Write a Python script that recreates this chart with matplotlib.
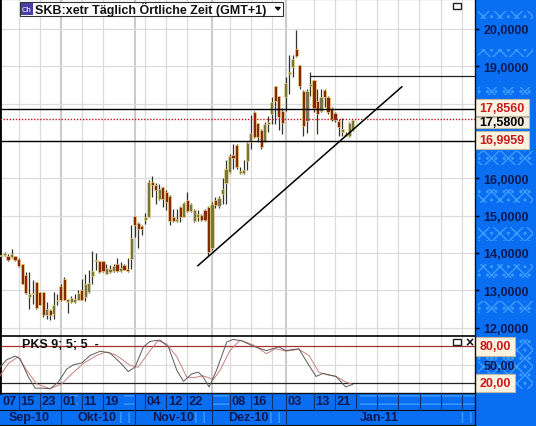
import matplotlib
matplotlib.use('Agg')
import matplotlib.pyplot as plt
from matplotlib.patches import Rectangle

plt.rcParams['font.family'] = ['Liberation Sans', 'DejaVu Sans']
plt.rcParams['hatch.linewidth'] = 1.0

# daily candles
opens = [13.91, 13.94, 13.92, 13.89, 13.91, 13.84, 13.71, 13.42, 12.82, 12.89, 13.21, 12.96, 12.96, 12.33, 12.48, 12.37, 12.71,
         13.11, 13.31, 12.68, 12.68, 12.69, 12.75, 13.00, 12.82, 12.96, 13.39, 13.78, 13.78, 13.78, 13.45, 13.49, 13.51, 13.71,
         13.52, 13.68, 13.58, 13.85, 14.98, 14.80, 14.71, 14.87, 14.96, 15.89, 15.81, 15.45, 15.77, 15.63, 15.52, 14.96, 14.85,
         15.23, 14.96, 15.41, 15.12, 14.86, 14.96, 15.01, 15.16, 15.23, 14.12, 15.43, 15.25, 15.59, 15.86, 16.17, 16.62, 16.90,
         16.14, 16.14, 16.46, 16.97, 17.78, 17.48, 17.30, 17.00, 17.44, 17.72, 18.46, 18.19, 17.79, 18.17, 18.78, 18.97, 19.47,
         19.02, 18.35, 17.54, 18.47, 18.62, 18.08, 17.80, 18.37, 18.17, 17.88, 17.74, 17.52, 17.23, 17.14, 17.14, 17.28]
highs = [13.98, 14.03, 13.96, 14.11, 13.93, 13.87, 13.71, 13.49, 13.49, 13.27, 13.21, 12.96, 12.96, 12.69, 12.51, 12.95, 12.91,
         13.18, 13.36, 12.78, 12.84, 12.91, 13.00, 13.29, 13.45, 13.54, 14.04, 14.00, 13.78, 13.78, 13.71, 13.67, 13.71, 13.87,
         13.76, 13.71, 13.87, 14.74, 14.98, 14.83, 14.74, 15.07, 15.96, 16.07, 15.87, 15.84, 15.77, 15.68, 15.54, 15.19, 15.19,
         15.25, 15.37, 15.63, 15.34, 15.19, 15.14, 15.05, 15.19, 15.25, 15.37, 15.50, 15.52, 16.01, 16.48, 16.64, 16.91, 16.91,
         16.30, 16.48, 16.97, 17.69, 17.80, 17.48, 17.33, 17.51, 17.68, 18.17, 18.46, 18.19, 17.88, 18.72, 19.30, 19.31, 19.98,
         19.02, 18.37, 18.39, 18.84, 18.62, 18.39, 18.39, 18.39, 18.19, 17.90, 17.77, 17.59, 17.61, 17.23, 17.50, 17.57]
lows = [13.87, 13.91, 13.79, 13.87, 13.79, 13.62, 13.16, 12.91, 12.51, 12.64, 12.50, 12.61, 12.29, 12.24, 12.20, 12.24, 12.60,
        12.71, 12.73, 12.39, 12.66, 12.66, 12.73, 12.73, 12.71, 12.93, 13.18, 13.54, 13.46, 13.49, 13.43, 13.46, 13.48, 13.49,
        13.49, 13.54, 13.49, 13.58, 14.43, 14.12, 14.47, 14.77, 14.95, 15.50, 15.32, 15.43, 15.23, 15.14, 14.74, 14.83, 14.83,
        14.83, 14.95, 15.10, 15.10, 14.83, 14.86, 14.85, 14.86, 13.91, 14.07, 15.21, 15.21, 15.32, 15.30, 16.13, 16.26, 16.26,
        16.11, 16.12, 16.21, 16.79, 17.09, 16.97, 16.79, 16.97, 17.23, 17.46, 17.46, 17.28, 17.19, 17.81, 18.26, 18.70, 19.26,
        18.39, 17.14, 17.21, 18.21, 17.77, 17.19, 17.77, 17.92, 17.72, 17.54, 17.50, 17.14, 17.14, 17.12, 17.10, 17.26]
closes = [13.95, 14.00, 13.80, 13.98, 13.80, 13.64, 13.18, 12.93, 12.91, 12.93, 12.52, 12.62, 12.33, 12.49, 12.33, 12.62, 12.75,
          12.73, 12.75, 12.77, 12.80, 12.78, 12.93, 12.75, 13.18, 13.20, 13.52, 13.80, 13.49, 13.52, 13.61, 13.58, 13.65, 13.51,
          13.61, 13.55, 13.51, 14.41, 14.74, 14.65, 14.65, 14.96, 15.90, 15.81, 15.68, 15.72, 15.45, 15.37, 14.86, 14.85, 14.92,
          14.96, 15.34, 15.12, 15.32, 15.16, 15.04, 14.87, 14.87, 14.03, 15.32, 15.28, 15.48, 15.72, 16.26, 16.59, 16.55, 16.30,
          16.19, 16.21, 16.95, 17.20, 17.11, 17.11, 16.84, 17.46, 17.50, 18.04, 18.08, 17.65, 17.47, 18.56, 18.84, 19.19, 19.28,
          18.48, 17.41, 18.35, 18.53, 17.88, 17.72, 18.17, 18.17, 17.77, 17.59, 17.57, 17.37, 17.32, 17.19, 17.47, 17.57]

# stochastic, read at the turning points
k_idx = [-0.3, 1.6, 4, 5.4, 7.8, 9.7, 11.6, 14, 16.3, 18.7, 20.6, 23, 25.3, 28.2, 31, 33.8, 36.2, 38.1, 40.5, 42.4, 45.2, 47.6,
         50, 51.9, 54.2, 56.1, 57.5, 59.2, 61.3, 64.2, 66, 68.4, 71.8, 75.5, 79, 81, 84.7, 86.7, 89.6, 91.6, 95.3, 98, 100]
k_val = [46, 58, 64, 60, 30, 12, 12, 11, 22, 43, 50, 53, 65, 72, 69, 54, 39, 46, 79, 88, 90, 79,
         41, 23, 35, 38, 30, 14, 41, 87, 91, 89, 80, 73, 79, 73, 76, 57, 31, 36, 31, 14, 18]
d_idx = [-0.3, 2.1, 4.9, 7.3, 10.1, 14, 17.3, 20.1, 23.4, 27.2, 30, 32.9, 36.7, 39, 42.4, 44.7, 47.1, 50, 52.8, 54.7, 57.5, 60.4,
         62.3, 65.1, 68, 71.8, 75.5, 78, 81, 84.7, 87.6, 90.4, 92.4, 95.3, 98, 100]
d_val = [32, 52, 63, 41, 19, 11, 19, 35, 52, 65, 71, 65, 49, 46, 73, 89, 84, 63, 30, 29, 32, 26,
         41, 73, 90, 82, 68, 76, 72, 75, 65, 38, 34, 31, 22, 18]

price_ticks = [12, 13, 14, 15, 16, 17, 18, 19, 20]
price_labels = ['12,0000', '13,0000', '14,0000', '15,0000', '16,0000', '', '', '19,0000', '20,0000']
grid_idx = [5, 11, 23, 29, 41, 47, 53, 65, 71, 77, 89, 95, 101, 107, 113, 119, 125, 131]
month_idx = [17, 38, 60, 81]
day_idx = [0, 5, 11, 17, 23, 29, 41, 47, 53, 65, 71, 81, 89, 95]
day_labels = ['07', '15', '23', '01', '11', '19', '04', '12', '22', '08', '16', '03', '13', '21']
month_labels = ['Sep-10', 'Okt-10', 'Nov-10', 'Dez-10', 'Jan-11']
month_px = [29, 97, 173, 248, 379]

res_hi = 17.8560
res_lo = 16.9959
last = 17.58
top_line = 18.73
trend_x = [56, 114]
trend_y = [13.66, 18.45]

W, H = 536, 427
NAVY = '#0b1a52'
BLUE = '#0a6ef2'
LIGHT = '#3c9cff'
GRID = '#dcdcdc'
CREAM = '#fbf3e2'
RED = '#cc1a1a'
UP = '#75754a'
DOWN = '#84290a'
GLOW = '#ffe48c'


def px_axes(x0, y0, x1, y1):
    return [x0 / W, 1 - y1 / H, (x1 - x0) / W, (y1 - y0) / H]


fig = plt.figure(figsize=(W / 100, H / 100), dpi=100, facecolor='white')

# blue frame behind everything
bg = fig.add_axes([0, 0, 1, 1], zorder=0)
bg.set_xlim(0, W)
bg.set_ylim(H, 0)
bg.axis('off')
bg.add_patch(Rectangle((475, 0), 61, H, fc=BLUE, ec='none'))
bg.add_patch(Rectangle((0, 394), 475, 33, fc=BLUE, ec='none'))
for y0, h in [(12, 8), (50, 8), (88, 8), (152, 14), (190, 14), (228, 14), (265, 14), (302, 12), (340, 50)]:
    bg.add_patch(Rectangle((478, y0), 55, h, fc='none', ec=LIGHT, hatch='xx..', lw=0))
for x0, w in [(124, 10), (212, 17), (360, 115), (70, 8)]:
    bg.add_patch(Rectangle((x0, 396), w, 12, fc='none', ec=LIGHT, hatch='--', lw=0))
for x0, w in [(120, 12), (195, 15), (268, 16), (455, 18)]:
    bg.add_patch(Rectangle((x0, 413), w, 11, fc='none', ec=LIGHT, hatch='||', lw=0))

# price panel
ax = fig.add_axes(px_axes(0, 0, 475, 336.5), zorder=2)
ax.set_xlim(-0.284, 134.8)
ax.set_ylim(11.79, 20.80)
for i in grid_idx:
    ax.axvline(i, color=GRID, lw=0.9, zorder=1)
for i in month_idx:
    ax.axvline(i, color='#cccccc', lw=1.5, zorder=1)
for p in price_ticks:
    ax.axhline(p, color=GRID, lw=0.9, zorder=1)

idx = list(range(len(opens)))
for i in idx:
    color = UP if closes[i] >= opens[i] else DOWN
    ax.vlines(i, lows[i], highs[i], color='#33332a', lw=0.9, zorder=3)
    ax.bar(i, abs(closes[i] - opens[i]), bottom=min(opens[i], closes[i]), width=0.9,
           color=color, edgecolor=GLOW, lw=0.4, zorder=4)

ax.axhline(res_hi, color='black', lw=1.0, zorder=5)
ax.axhline(res_lo, color='black', lw=1.0, zorder=5)
ax.axhline(last, color='#c01818', lw=1.0, ls=(0, (1, 1.2)), zorder=5)
ax.hlines(top_line, 87.9, 134.8, color='#222222', lw=0.9, zorder=5)
ax.plot(trend_x, trend_y, color='black', lw=1.1, zorder=5)

ax.yaxis.tick_right()
ax.set_yticks(price_ticks)
ax.set_yticklabels(price_labels, color=NAVY, fontsize=9, fontweight='bold')
ax.tick_params(axis='y', length=3, width=1, pad=3, color='black')
ax.set_xticks([])
for s in ['right', 'bottom']:
    ax.spines[s].set_visible(False)
ax.spines['left'].set_linewidth(2)
ax.spines['top'].set_linewidth(1.5)

# oscillator panel
osc = fig.add_axes(px_axes(0, 336.5, 475, 394), zorder=2)
osc.set_xlim(-0.284, 134.8)
osc.set_ylim(4.1, 97.5)
for i in grid_idx:
    osc.axvline(i, color=GRID, lw=0.9, zorder=1)
for i in month_idx:
    osc.axvline(i, color='#cccccc', lw=1.5, zorder=1)
osc.axhline(50, color=GRID, lw=0.9, zorder=1)
osc.axhline(80, color='#a83232', lw=0.9, zorder=2)
osc.axhline(20, color='#222222', lw=0.9, zorder=2)
osc.plot(d_idx, d_val, color='#c8807a', lw=0.7, zorder=3)
osc.plot(k_idx, k_val, color='#5a5a5a', lw=0.7, zorder=4)
osc.set_xticks([])
osc.yaxis.tick_right()
osc.set_yticks([50])
osc.set_yticklabels(['50,00'], color=NAVY, fontsize=9, fontweight='bold')
osc.tick_params(axis='y', length=0, pad=6)
for s in ['right', 'bottom']:
    osc.spines[s].set_visible(False)
osc.spines['left'].set_linewidth(2)
osc.spines['top'].set_linewidth(1.2)
osc.text(22, 345, 'PKS 9; 5; 5  -', transform=bg.transData, fontsize=9, color='#111111',
         fontweight='bold', va='center', ha='left', zorder=6)

# overlay in pixels: boxes, date strip, window buttons
top = fig.add_axes([0, 0, 1, 1], zorder=5)
top.set_xlim(0, W)
top.set_ylim(H, 0)
top.axis('off')
top.patch.set_alpha(0)

top.add_patch(Rectangle((20, 3), 263, 14, fc='white', ec='#333333', lw=0.8))
top.add_patch(Rectangle((21, 4), 12, 12, fc='#4a3fa0', ec='none'))
top.text(27, 10, 'Ch', color='white', fontsize=5.5, ha='center', va='center')
top.text(35, 9.5, 'SKB:xetr Täglich Örtliche Zeit (GMT+1)', fontsize=9.0, color='#111111',
         fontweight='bold', ha='left', va='center')
top.plot([276, 280, 278, 276], [8.5, 8.5, 11, 8.5], color='black', lw=1)
top.add_patch(Rectangle((453, 4), 8, 6, fc='white', ec='#222222', lw=1))
top.add_patch(Rectangle((453, 340), 8, 6, fc='white', ec='#222222', lw=1))
top.text(469, 343, '×', fontsize=10, fontweight='bold', ha='center', va='center', color='#111111')


def price_box(y0, w, h, label, color, face):
    top.add_patch(Rectangle((475, y0), w, h, fc=face, ec='#c0b8a0', lw=0.8))
    top.text(475 + w / 2, y0 + h / 2, label, fontsize=9, fontweight='bold', color=color, ha='center', va='center')


price_box(118, 54, 11, '17,5800', 'black', '#f4efe0')
price_box(100, 54, 17, '17,8560', RED, CREAM)
price_box(132, 54, 18, '16,9959', RED, CREAM)
price_box(338, 40, 19, '80,00', RED, CREAM)
price_box(375, 40, 18, '20,00', RED, CREAM)

# date strip
top.plot([0, 475], [394, 394], color='#111111', lw=1)
top.plot([0, 475], [410.7, 410.7], color='#111111', lw=0.8)
top.plot([0, 475], [425.7, 425.7], color='#111111', lw=0.8)
top.plot([475, 475], [0, H], color='#111111', lw=1)
for i in grid_idx + month_idx:
    top.plot([1 + 3.517 * i] * 2, [394, 410.7], color='#103070', lw=0.8)
for i in month_idx:
    top.plot([1 + 3.517 * i] * 2, [410.7, 425.7], color='#103070', lw=0.8)
for i, lab in zip(day_idx, day_labels):
    top.text(1 + 3.517 * i + 1.5, 402.5, lab, fontsize=9.3, fontweight='bold', color=NAVY, ha='left', va='center')
for x, lab in zip(month_px, month_labels):
    top.text(x, 418.5, lab, fontsize=9, fontweight='bold', color=NAVY, ha='center', va='center')

fig.savefig('out.png', dpi=100)
